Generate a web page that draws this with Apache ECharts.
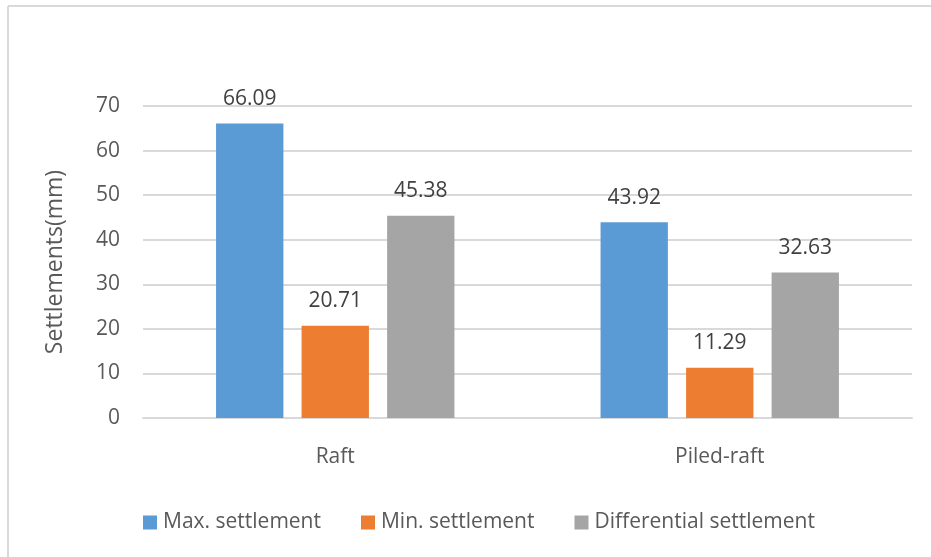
<!DOCTYPE html>
<html>
<head>
<meta charset="utf-8">
<script src="https://cdn.jsdelivr.net/npm/echarts@6/dist/echarts.min.js"></script>
<style>
  html, body { margin: 0; padding: 0; background: #fff; }
  #chart { width: 931px; height: 557px; }
</style>
</head>
<body>
<div id="chart"></div>
<script>
// Foundation types on the x axis
const categories = ['Raft', 'Piled-raft'];
// Settlement values in mm
const maxSettlement = [66.09, 43.92];
const minSettlement = [20.71, 11.29];
const diffSettlement = [45.38, 32.63];
// Y axis range
const yMin = 0, yMax = 70, yStep = 10;

const FONT = '"Open Sans", "Noto Sans", sans-serif';
const labelStyle = {
  show: true,
  position: 'top',
  distance: 14,
  color: '#404040',
  fontSize: 21,
  fontFamily: FONT,
  formatter: p => p.value.toFixed(2)
};

function makeSeries(name, data, color) {
  return {
    name, type: 'bar', data,
    barGap: '27%',
    barCategoryGap: '38%',
    itemStyle: { color },
    label: labelStyle,
    emphasis: { disabled: true }
  };
}

const chart = echarts.init(document.getElementById('chart'), null, { renderer: 'canvas' });
chart.setOption({
  animation: false,
  backgroundColor: '#fff',
  textStyle: { fontFamily: FONT },
  graphic: [
    { type: 'line', shape: { x1: 8, y1: 6, x2: 931, y2: 6 }, style: { stroke: '#d9d9d9', lineWidth: 2 }, silent: true },
    { type: 'line', shape: { x1: 8, y1: 6, x2: 8, y2: 557 }, style: { stroke: '#d9d9d9', lineWidth: 2 }, silent: true }
  ],
  grid: { left: 143, right: 19, top: 106, bottom: 139, containLabel: false },
  legend: {
    bottom: 19,
    left: 138,
    itemWidth: 14,
    itemHeight: 14,
    itemGap: 40,
    icon: 'rect',
    textStyle: { color: '#595959', fontSize: 21, fontFamily: FONT, padding: [0, 0, 0, 1] },
    data: ['Max. settlement', 'Min. settlement', 'Differential settlement']
  },
  xAxis: {
    type: 'category',
    data: categories,
    axisLine: { lineStyle: { color: '#d9d9d9', width: 2 } },
    axisTick: { show: false },
    axisLabel: { color: '#595959', fontSize: 21, fontFamily: FONT, margin: 29 }
  },
  yAxis: {
    type: 'value',
    min: yMin, max: yMax, interval: yStep,
    name: 'Settlements(mm)',
    nameLocation: 'middle',
    nameGap: 76,
    nameTextStyle: { color: '#595959', fontSize: 23, fontFamily: FONT },
    axisLine: { show: false },
    axisTick: { show: false },
    axisLabel: { color: '#595959', fontSize: 21, fontFamily: FONT, margin: 23 },
    splitLine: { lineStyle: { color: '#d9d9d9', width: 2 } }
  },
  series: [
    makeSeries('Max. settlement', maxSettlement, '#5b9bd5'),
    makeSeries('Min. settlement', minSettlement, '#ed7d31'),
    makeSeries('Differential settlement', diffSettlement, '#a5a5a5')
  ]
});
</script>
</body>
</html>
